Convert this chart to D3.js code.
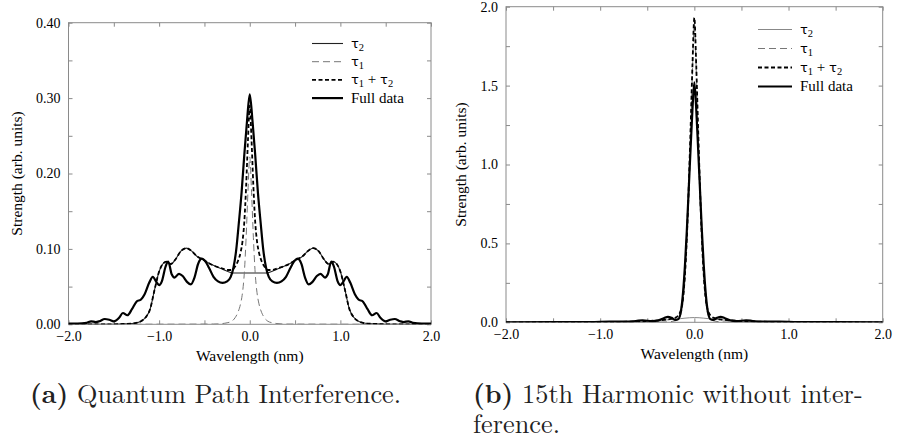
<!DOCTYPE html>
<html><head><meta charset="utf-8">
<script src="https://cdn.jsdelivr.net/npm/d3@7"></script>
</head>
<body style="margin:0">
<svg id="chart" width="906" height="441" style="display:block"></svg>
<script>
// ---------- Panel (a): Quantum Path Interference ----------
const aTau2X = [-2.0,-1.5,-1.4,-1.3,-1.25,-1.2,-1.15,-1.1,-1.05,-1.0,-0.96,-0.92,-0.87,-0.82,-0.76,-0.70,-0.64,-0.58,-0.52,-0.45,-0.38,-0.30,-0.22,-0.18,0,0.18,0.22,0.30,0.38,0.45,0.52,0.58,0.64,0.70,0.76,0.82,0.87,0.92,0.96,1.0,1.05,1.1,1.15,1.2,1.25,1.3,1.4,1.5,2.0];
const aTau2Y = [0,0,0.0005,0.001,0.002,0.004,0.009,0.02,0.046,0.07,0.08,0.083,0.080,0.086,0.097,0.101,0.097,0.090,0.086,0.081,0.077,0.073,0.069,0.068,0.068,0.068,0.069,0.073,0.077,0.081,0.086,0.090,0.097,0.101,0.097,0.086,0.080,0.083,0.080,0.07,0.046,0.02,0.009,0.004,0.002,0.001,0.0005,0,0];

const aTau1X = [-2.0,-0.4,-0.3,-0.25,-0.2,-0.16,-0.13,-0.1,-0.08,-0.06,-0.04,-0.02,0,0.02,0.04,0.06,0.08,0.1,0.13,0.16,0.2,0.25,0.3,0.4,2.0];
const aTau1Y = [0,0.0003,0.001,0.002,0.004,0.009,0.016,0.028,0.042,0.068,0.115,0.175,0.222,0.175,0.115,0.068,0.042,0.028,0.016,0.009,0.004,0.002,0.001,0.0003,0];

const aSumX = [-2.0,-1.5,-1.4,-1.3,-1.25,-1.2,-1.15,-1.1,-1.05,-1.0,-0.96,-0.92,-0.87,-0.82,-0.76,-0.70,-0.64,-0.58,-0.52,-0.45,-0.38,-0.30,-0.25,-0.2,-0.16,-0.13,-0.1,-0.08,-0.06,-0.04,-0.02,0,0.02,0.04,0.06,0.08,0.1,0.13,0.16,0.2,0.25,0.30,0.38,0.45,0.52,0.58,0.64,0.70,0.76,0.82,0.87,0.92,0.96,1.0,1.05,1.1,1.15,1.2,1.25,1.3,1.4,1.5,2.0];
const aSumY = [0,0,0.0005,0.001,0.002,0.004,0.009,0.02,0.046,0.07,0.08,0.083,0.080,0.086,0.097,0.101,0.097,0.090,0.086,0.081,0.077,0.074,0.072,0.072,0.077,0.084,0.096,0.110,0.136,0.183,0.243,0.290,0.243,0.183,0.136,0.110,0.096,0.084,0.077,0.072,0.072,0.074,0.077,0.081,0.086,0.090,0.097,0.101,0.097,0.086,0.080,0.083,0.080,0.07,0.046,0.02,0.009,0.004,0.002,0.001,0.0005,0,0];

const aFullX = [-2.0,-1.9,-1.8,-1.75,-1.7,-1.66,-1.6,-1.55,-1.5,-1.44,-1.4,-1.35,-1.3,-1.25,-1.2,-1.16,-1.11,-1.07,-1.03,-1.0,-0.97,-0.93,-0.9,-0.86,-0.83,-0.78,-0.74,-0.69,-0.65,-0.61,-0.57,-0.53,-0.5,-0.45,-0.4,-0.35,-0.3,-0.25,-0.21,-0.18,-0.15,-0.12,-0.09,-0.06,-0.03,0,0.03,0.06,0.09,0.12,0.15,0.18,0.21,0.25,0.3,0.35,0.4,0.45,0.5,0.53,0.57,0.61,0.65,0.69,0.74,0.78,0.83,0.86,0.9,0.93,0.97,1.0,1.03,1.07,1.11,1.16,1.2,1.25,1.3,1.35,1.4,1.44,1.5,1.55,1.6,1.66,1.7,1.75,1.8,1.9,2.0];
const aFullY = [0.001,0.001,0.002,0.004,0.003,0.004,0.007,0.006,0.004,0.009,0.015,0.012,0.020,0.030,0.033,0.040,0.055,0.063,0.056,0.052,0.057,0.076,0.083,0.066,0.062,0.067,0.064,0.056,0.053,0.062,0.080,0.087,0.085,0.075,0.063,0.057,0.055,0.057,0.063,0.075,0.098,0.135,0.175,0.225,0.270,0.305,0.270,0.225,0.175,0.135,0.098,0.075,0.063,0.057,0.055,0.057,0.063,0.075,0.085,0.087,0.080,0.062,0.053,0.056,0.064,0.067,0.062,0.066,0.083,0.076,0.057,0.052,0.056,0.063,0.055,0.040,0.033,0.030,0.020,0.012,0.015,0.009,0.004,0.006,0.007,0.004,0.003,0.004,0.002,0.001,0.001];

// ---------- Panel (b): 15th Harmonic without interference ----------
const bTau2X = [-2.0,-1.0,-0.7,-0.5,-0.3,-0.2,0,0.2,0.3,0.5,0.7,1.0,2.0];
const bTau2Y = [0,0.001,0.004,0.008,0.015,0.02,0.03,0.02,0.015,0.008,0.004,0.001,0];

const bTau1X = [-2.0,-0.5,-0.3,-0.2,-0.15,-0.12,-0.1,-0.08,-0.06,-0.04,-0.02,0,0.02,0.04,0.06,0.08,0.1,0.12,0.15,0.2,0.3,0.5,2.0];
const bTau1Y = [0,0,0.002,0.01,0.04,0.13,0.27,0.5,0.82,1.2,1.6,1.9,1.6,1.2,0.82,0.5,0.27,0.13,0.04,0.01,0.002,0,0];

const bSumX = [-2.0,-1.0,-0.7,-0.5,-0.3,-0.2,-0.15,-0.12,-0.1,-0.08,-0.06,-0.04,-0.02,0,0.02,0.04,0.06,0.08,0.1,0.12,0.15,0.2,0.3,0.5,0.7,1.0,2.0];
const bSumY = [0,0.001,0.004,0.008,0.017,0.03,0.065,0.155,0.3,0.53,0.85,1.23,1.63,1.93,1.63,1.23,0.85,0.53,0.3,0.155,0.065,0.03,0.017,0.008,0.004,0.001,0];

const bFullX = [-2.0,-1.5,-1.1,-0.9,-0.75,-0.62,-0.55,-0.45,-0.38,-0.32,-0.28,-0.24,-0.2,-0.17,-0.14,-0.12,-0.1,-0.08,-0.06,-0.04,-0.02,0,0.02,0.04,0.06,0.08,0.1,0.12,0.14,0.17,0.2,0.24,0.28,0.32,0.38,0.45,0.55,0.62,0.75,0.9,1.1,1.5,2.0];
const bFullY = [0,0.002,0.002,0.005,0.004,0.008,0.013,0.007,0.012,0.027,0.035,0.028,0.015,0.02,0.08,0.19,0.36,0.58,0.84,1.1,1.35,1.52,1.35,1.1,0.84,0.58,0.36,0.19,0.08,0.02,0.015,0.028,0.035,0.027,0.012,0.007,0.013,0.008,0.004,0.005,0.002,0.002,0];

// ---------- Axes / text ----------
const xDomain = [-2, 2];
const xTicks = [-2,-1.5,-1,-0.5,0,0.5,1,1.5,2];
const xTickLabels = [-2,-1,0,1,2];
const aYDomain = [0, 0.4];
const aYTicks = [0,0.05,0.1,0.15,0.2,0.25,0.3,0.35,0.4];
const aYTickLabels = [0,0.1,0.2,0.3,0.4];
const bYDomain = [0, 2];
const bYTicks = [0,0.25,0.5,0.75,1,1.25,1.5,1.75,2];
const bYTickLabels = [0,0.5,1,1.5,2];
const xTitle = "Wavelength (nm)";
const yTitle = "Strength (arb. units)";
const legendNames = [["τ","2"],["τ","1"],["τ","1"," + ","τ","2"],["Full data"]];

const SERIF = '"Liberation Serif"';
const svg = d3.select("#chart");

function panel(o){
  const g = svg.append("g");
  const x = d3.scaleLinear().domain(xDomain).range([o.x0, o.x1]);
  const y = d3.scaleLinear().domain(o.yDomain).range([o.y1, o.y0]);
  const tk = 4;
  const frame = "#8a8a8a";

  g.append("rect").attr("x",o.x0).attr("y",o.y0).attr("width",o.x1-o.x0).attr("height",o.y1-o.y0)
    .attr("fill","none").attr("stroke",frame).attr("stroke-width",1);

  const ax = [
    d3.axisBottom(x).tickValues(xTicks).tickSize(-tk).tickPadding(7)
      .tickFormat(d => xTickLabels.includes(d) ? d3.format(".1f")(d) : ""),
    d3.axisTop(x).tickValues(xTicks).tickSize(-tk).tickFormat(""),
    d3.axisLeft(y).tickValues(o.yTicks).tickSize(-tk).tickPadding(8)
      .tickFormat(d => o.yLabels.includes(d) ? d3.format(o.yFmt)(d) : ""),
    d3.axisRight(y).tickValues(o.yTicks).tickSize(-tk).tickFormat("")
  ];
  const pos = [[0,o.y1],[0,o.y0],[o.x0,0],[o.x1,0]];
  ax.forEach((a,i)=>{
    const ag = g.append("g").attr("transform",`translate(${pos[i][0]},${pos[i][1]})`).call(a);
    ag.attr("font-family", SERIF).attr("font-size", 14);
    ag.select(".domain").remove();
    ag.selectAll(".tick line").attr("stroke",frame);
    ag.selectAll(".tick text").style("font-size","14px").style("font-family",SERIF).attr("fill","#000");
  });

  g.append("text").attr("x",(o.x0+o.x1)/2).attr("y",o.xTitleY).attr("text-anchor","middle")
    .style("font-family",SERIF).style("font-size","15.5px").text(xTitle);
  g.append("text").attr("transform",`translate(${o.yTitleX},${(o.y0+o.y1)/2}) rotate(-90)`)
    .attr("text-anchor","middle").style("font-family",SERIF).style("font-size","15.5px").text(yTitle);

  const line = d3.line().x(d=>x(d[0])).y(d=>y(d[1])).curve(d3.curveMonotoneX);
  const clip = "clip" + o.id;
  g.append("clipPath").attr("id",clip).append("rect").attr("x",o.x0).attr("y",o.y0-5).attr("width",o.x1-o.x0).attr("height",o.y1-o.y0+5);
  const pg = g.append("g").attr("clip-path",`url(#${clip})`);
  const styles = o.styles;
  o.series.forEach((s,i)=>{
    pg.append("path").datum(d3.zip(s[0], s[1])).attr("d",line).attr("fill","none")
      .attr("stroke",styles[i].c).attr("stroke-width",styles[i].w)
      .attr("stroke-dasharray",styles[i].dash||null).attr("stroke-linejoin","round");
  });

  legendNames.forEach((nm,i)=>{
    const ly = o.legY + i*o.legStep;
    const st = styles[i];
    g.append("line").attr("x1",o.legX).attr("x2",o.legX+o.legLen).attr("y1",ly).attr("y2",ly)
      .attr("stroke",st.c).attr("stroke-width",st.w).attr("stroke-dasharray",st.dash||null);
    const t = g.append("text").attr("x",o.legX+o.legLen+8).attr("y",ly+4.5)
      .style("font-family",SERIF).style("font-size","15px");
    if (nm.length===1) { t.text(nm[0]); }
    else {
      for (let k=0;k<nm.length;k++){
        const part = nm[k];
        if (part==="2"||part==="1") t.append("tspan").style("font-size","10.5px").attr("dy",3).text(part);
        else {
          const prev = nm[k-1];
          t.append("tspan").attr("dy",(prev==="1"||prev==="2")?-3:0)
            .style("font-family", part==="τ"?'"DejaVu Sans"':SERIF).style("font-size", part==="τ"?"13px":"15px").text(part);
        }
      }
    }
  });
  return g;
}

const stylesA = [
  {c:"#222", w:1.1},
  {c:"#777", w:1, dash:"7,4"},
  {c:"#000", w:1.8, dash:"4,2.5"},
  {c:"#000", w:2.2}
];
const stylesB = [
  {c:"#888", w:1},
  {c:"#777", w:1, dash:"7,4"},
  {c:"#000", w:1.8, dash:"4,2.5"},
  {c:"#000", w:2.2}
];

panel({id:"a", x0:68.5, x1:431, y0:22.7, y1:324.3, yDomain:aYDomain, yTicks:aYTicks, yLabels:aYTickLabels, yFmt:".2f",
  xTitleY:361, yTitleX:22, styles:stylesA,
  series:[[aTau2X,aTau2Y],[aTau1X,aTau1Y],[aSumX,aSumY],[aFullX,aFullY]],
  legX:312, legLen:31, legY:43.5, legStep:18.2});
panel({id:"b", x0:506, x1:882.7, y0:6.7, y1:322.3, yDomain:bYDomain, yTicks:bYTicks, yLabels:bYTickLabels, yFmt:".1f",
  xTitleY:359, yTitleX:466, styles:stylesB,
  series:[[bTau2X,bTau2Y],[bTau1X,bTau1Y],[bSumX,bSumY],[bFullX,bFullY]],
  legX:758, legLen:34, legY:29.5, legStep:19});

const CAP = '"Latin Modern Roman"';
function caption(xp, yp, bold, rest){
  const t = svg.append("text").attr("x",xp).attr("y",yp).style("font-family",CAP).style("font-size","26.3px").style("fill","#222");
  t.append("tspan").style("font-weight","bold").text(bold);
  t.append("tspan").text(" " + rest);
  return t;
}
caption(30, 403, "(a)", "Quantum Path Interference.");
caption(473, 403, "(b)", "15th Harmonic without inter-");
svg.append("text").attr("x",473).attr("y",433).style("font-family",CAP).style("font-size","26.3px").style("fill","#222").text("ference.");
</script>
</body></html>
